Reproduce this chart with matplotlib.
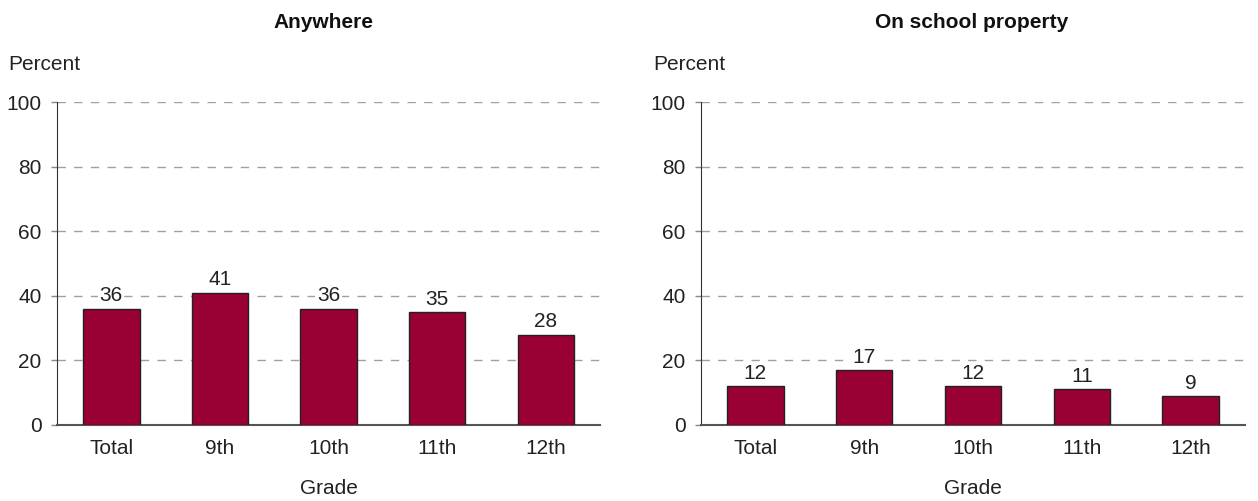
import matplotlib.pyplot as plt

grades = ["Total", "9th", "10th", "11th", "12th"]
anywhere = [36, 41, 36, 35, 28]
school = [12, 17, 12, 11, 9]
titles = ["Anywhere", "On school property"]

fig = plt.figure(figsize=(12.58, 5.01), dpi=100)
plt.rcParams['font.family'] = ['Liberation Sans', 'DejaVu Sans']

boxes = [[0.0453, 0.1517, 0.4317, 0.6447], [0.5572, 0.1517, 0.4325, 0.6447]]
percent_x = [0.0064, 0.519]
title_x = [0.491, 0.497]
fs = 15

for box, vals, title, px, tx in zip(boxes, [anywhere, school], titles, percent_x, title_x):
    ax = fig.add_axes(box)
    x = range(len(grades))
    ax.bar(x, vals, width=0.52, color="#990033", edgecolor="#222222", linewidth=1, zorder=3)
    for xi, v in zip(x, vals):
        ax.text(xi, v + 1.0, str(v), ha="center", va="bottom", fontsize=fs,
                color="#222222", zorder=4,
                bbox=dict(facecolor="white", edgecolor="none", pad=1))
    ax.set_xlim(-0.5, 4.5)
    ax.set_ylim(0, 100)
    ax.set_yticks(range(0, 101, 20))
    ax.set_xticks(list(x))
    ax.set_xticklabels(grades)
    ax.tick_params(axis="x", length=0, pad=10, labelsize=fs, colors="#222222")
    ax.tick_params(axis="y", length=4, width=1, color="#888888", pad=7, labelsize=fs,
                   labelcolor="#222222")
    for y in range(20, 101, 20):
        ax.axhline(y, color="#a0a0a0", linestyle=(0, (6, 6)), linewidth=1, zorder=1)
    for s in ["top", "right"]:
        ax.spines[s].set_visible(False)
    ax.spines["left"].set_color("#333333")
    ax.spines["bottom"].set_color("#555555")
    ax.spines["bottom"].set_linewidth(1.5)
    ax.set_title(title, fontsize=15, fontweight="bold", pad=53, color="#111111", x=tx)
    fig.text(px, 1 - 64 / 501, "Percent", ha="left", va="center",
             fontsize=fs, color="#222222")
    ax.set_xlabel("Grade", fontsize=fs, labelpad=15, color="#222222")

fig.savefig("out.png", dpi=100)
